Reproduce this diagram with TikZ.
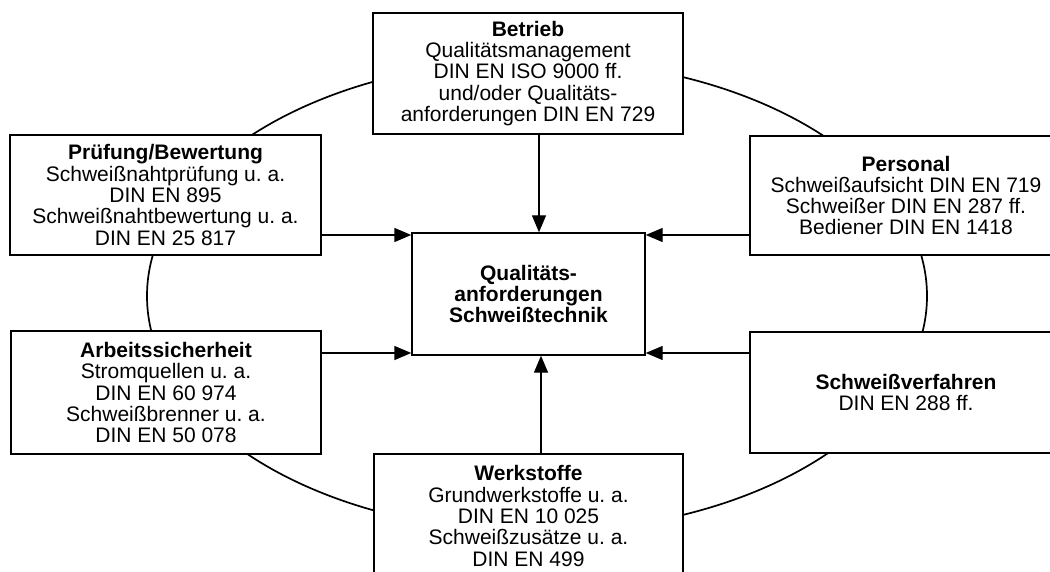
\documentclass[tikz,border=0pt]{standalone}
\usepackage{fontspec}
\setmainfont{Liberation Sans}
\usetikzlibrary{arrows.meta}
\begin{document}
\frenchspacing
\begin{tikzpicture}[x=1pt,y=-1pt,
  box/.style={draw,line width=1.4pt,fill=white,inner sep=0pt,align=center,
    font=\fontsize{21}{21.3}\selectfont},
  arr/.style={line width=1.4pt,-{Triangle[length=17pt,width=14pt]}},
  ring/.style={line width=1.7pt}]
\useasboundingbox (0,0) rectangle (1050,572);
\clip (0,0) rectangle (1050,572);
\draw[ring] (537,296) ellipse [x radius=390, y radius=236];
\node[box,minimum width=310pt,minimum height=121pt] (betr) at (528,73.5)
  {\textbf{Betrieb}\\Qualitätsmanagement\\DIN EN ISO 9000 ff.\\und/oder Qualitäts-\\anforderungen DIN EN 729};
\node[box,minimum width=311pt,minimum height=120pt] (prue) at (165.5,195)
  {\textbf{Prüfung/Bewertung}\\Schweißnahtprüfung u. a.\\DIN EN 895\\Schweißnahtbewertung u. a.\\DIN EN 25 817};
\node[box,minimum width=312pt,minimum height=119pt] (pers) at (906,195.5)
  {\textbf{Personal}\\Schweißaufsicht DIN EN 719\\Schweißer DIN EN 287 ff.\\Bediener DIN EN 1418};
\node[box,minimum width=310pt,minimum height=123pt] (arb) at (166,392.5)
  {\textbf{Arbeitssicherheit}\\Stromquellen u. a.\\DIN EN 60 974\\Schweißbrenner u. a.\\DIN EN 50 078};
\node[box,minimum width=312pt,minimum height=121pt] (verf) at (906,392.5)
  {\textbf{Schweißverfahren}\\DIN EN 288 ff.};
\node[box,minimum width=309pt,minimum height=124pt] (werk) at (528.5,516)
  {\textbf{Werkstoffe}\\Grundwerkstoffe u. a.\\DIN EN 10 025\\Schweißzusätze u. a.\\DIN EN 499};
\node[box,minimum width=233pt,minimum height=122pt] (cbox) at (528.5,294)
  {\textbf{Qualitäts-}\\\textbf{anforderungen}\\\textbf{Schweißtechnik}};
\draw[arr] (betr.south -| 539,0) -- (cbox.north -| 539,0);
\draw[arr] (werk.north -| 541,0) -- (cbox.south -| 541,0);
\draw[arr] (prue.east |- 0,235) -- (cbox.west |- 0,235);
\draw[arr] (arb.east |- 0,353) -- (cbox.west |- 0,353);
\draw[arr] (pers.west |- 0,235) -- (cbox.east |- 0,235);
\draw[arr] (verf.west |- 0,353) -- (cbox.east |- 0,353);
\end{tikzpicture}
\end{document}
